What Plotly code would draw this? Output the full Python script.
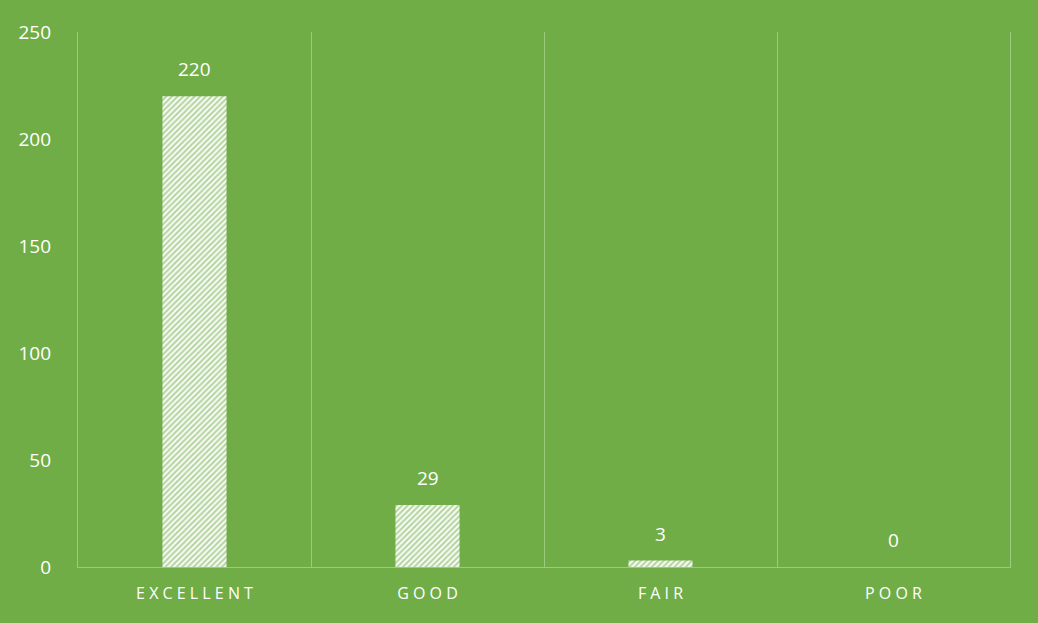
import plotly.graph_objects as go

categories = ["Excellent", "Good", "Fair", "Poor"]
values = [220, 29, 3, 0]
tick_labels = ["E X C E L L E N T", "G O O D", "F A I R", "P O O R"]
y_ticks = [0, 50, 100, 150, 200, 250]

GREEN = "#70AD47"
LINE = "#9DCB7E"
FONT = "Open Sans, Liberation Sans, sans-serif"

fig = go.Figure()
fig.add_trace(go.Bar(
    x=categories, y=values, width=0.275,
    marker=dict(color="white", line=dict(width=0),
                pattern=dict(shape="/", bgcolor="white", fgcolor=GREEN,
                             size=4, solidity=0.55)),
    hoverinfo="skip",
))

for c, v in zip(categories, values):
    fig.add_annotation(x=c, y=v, text=str(v), showarrow=False, yanchor="bottom",
                       yshift=12, font=dict(color="white", size=19, family=FONT))

fig.update_layout(
    width=1038, height=623,
    paper_bgcolor=GREEN, plot_bgcolor=GREEN,
    margin=dict(l=78, r=28, t=32, b=56),
    showlegend=False,
    font=dict(family=FONT, color="white"),
    bargap=0.5,
)
fig.update_xaxes(
    type="category", tickson="boundaries", showgrid=True, gridcolor=LINE, gridwidth=1.2,
    tickvals=categories, ticktext=tick_labels, ticks="",
    showline=True, linecolor=LINE, linewidth=1.2,
    tickfont=dict(size=16, color="white", family=FONT),
    ticklabelstandoff=12,
    range=[-0.5, 3.5], fixedrange=True,
)
fig.update_yaxes(
    range=[0, 250], tickvals=y_ticks, showgrid=False, zeroline=False,
    showline=True, mirror=True, linecolor=LINE, linewidth=1.2,
    tickfont=dict(size=19, color="white", family=FONT),
    ticklabelstandoff=22, fixedrange=True,
)

fig.write_html("out.html", config={"displayModeBar": False},
               post_script="document.body.style.margin='0';document.body.style.overflow='hidden';")
